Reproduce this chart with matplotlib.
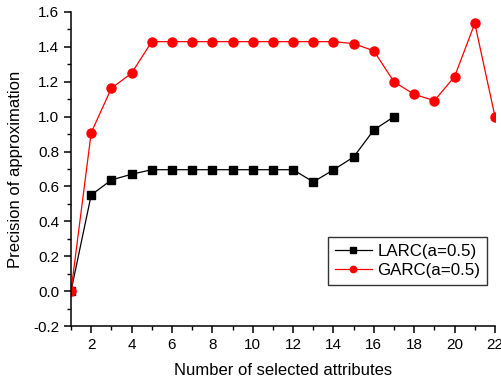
import matplotlib
matplotlib.use("Agg")
import matplotlib.pyplot as plt
from matplotlib.ticker import MultipleLocator

plt.rcParams['font.family'] = ['Liberation Sans', 'DejaVu Sans']

x_larc = list(range(1, 18))
larc = [0.0, 0.551, 0.637, 0.670, 0.696, 0.696, 0.696, 0.696, 0.696, 0.696,
        0.696, 0.696, 0.626, 0.695, 0.769, 0.924, 1.0]
x_garc = list(range(1, 23))
garc = [0.0, 0.908, 1.163, 1.249, 1.43, 1.43, 1.43, 1.43, 1.43, 1.43,
        1.43, 1.43, 1.43, 1.43, 1.419, 1.377, 1.199, 1.128, 1.092, 1.23,
        1.535, 1.0]
xticks = list(range(2, 23, 2))
yticks = [-0.2, 0.0, 0.2, 0.4, 0.6, 0.8, 1.0, 1.2, 1.4, 1.6]

fig = plt.figure(figsize=(5.01, 3.81), dpi=100)
ax = fig.add_axes([71/501, 1-326/381, (495-71)/501, (326-12)/381])

ax.plot(x_larc, larc, color='black', lw=0.9, marker='s', ms=5.2,
        label='LARC(a=0.5)')
ax.plot(x_garc, garc, color='red', lw=0.9, marker='o', ms=6.5,
        label='GARC(a=0.5)')

ax.set_xlim(1, 22)
ax.set_ylim(-0.2, 1.6)
ax.set_xticks(xticks)
ax.set_xticklabels([str(t) for t in xticks])
ax.set_yticks(yticks)
ax.set_yticklabels(['%.1f' % t for t in yticks])
ax.xaxis.set_minor_locator(MultipleLocator(1))
ax.yaxis.set_minor_locator(MultipleLocator(0.1))
for s in ['top', 'right']:
    ax.spines[s].set_visible(False)
for s in ['left', 'bottom']:
    ax.spines[s].set_linewidth(1.1)
ax.tick_params(which='major', direction='out', length=5, width=1.1, labelsize=11)
ax.tick_params(which='minor', direction='out', length=3, width=1.0)

ax.set_xlabel('Number of selected attributes', fontsize=12, labelpad=8)
ax.set_ylabel('Precision of approximation', fontsize=12, labelpad=7)

leg = ax.legend(loc='upper left', bbox_to_anchor=((328-71)/424, 1-(237-12)/314),
                borderaxespad=0,
                fontsize=12.2, frameon=True, fancybox=False, edgecolor='#333333',
                framealpha=1, markerscale=0.7, handlelength=2.2,
                borderpad=0.4, labelspacing=0.25, handletextpad=0.3)
leg.get_frame().set_linewidth(1.0)

fig.savefig('out.png', dpi=100)
